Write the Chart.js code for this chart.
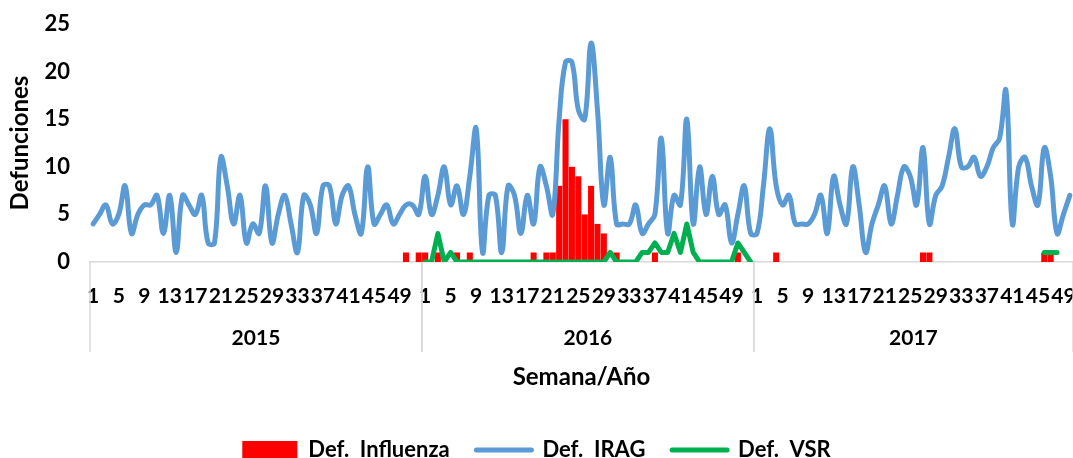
<!DOCTYPE html>
<html>
<head>
<meta charset="utf-8">
<script src="https://cdn.jsdelivr.net/npm/chart.js@4.4.1/dist/chart.umd.min.js"></script>
<style>
  html, body { margin: 0; padding: 0; background: #fff; }
  #graf { width: 1073px; height: 458px; }
</style>
</head>
<body>
<div id="graf"><canvas></canvas></div>
<script>
const YEARS = ["2015", "2016", "2017"];
const WEEKS_PER_YEAR = [52, 52, 50];

const IRAG_2015 = [4, 5, 6, 4, 5, 8, 3, 5, 6, 6,
  7, 3, 7, 1, 7, 6, 5, 7, 2, 2,
  11, 8, 4, 7, 2, 4, 3, 8, 2, 5,
  7, 4, 1, 7, 6, 3, 8, 8, 4, 7,
  8, 5, 3, 10, 4, 5, 6, 4, 5, 6,
  6, 5];
const IRAG_2016 = [9, 5, 7, 10, 6, 8, 5, 9, 14, 1,
  7, 7, 1, 8, 7, 3, 7, 4, 10, 8,
  5, 15, 21, 21, 16, 15, 23, 16, 6, 11,
  4, 4, 4, 6, 3, 4, 5, 13, 3, 7,
  6, 15, 4, 10, 5, 9, 5, 6, 2, 5,
  8, 3];
const IRAG_2017 = [3, 8, 14, 8, 6, 7, 4, 4, 4, 5,
  7, 3, 9, 6, 4, 10, 6, 1, 4, 6,
  8, 4, 7, 10, 9, 6, 12, 4, 7, 8,
  11, 14, 10, 10, 11, 9, 10, 12, 13, 18,
  4, 10, 11, 8, 6, 12, 9, 3, 5, 7];

const FLU_2015 = [0, 0, 0, 0, 0, 0, 0, 0, 0, 0,
  0, 0, 0, 0, 0, 0, 0, 0, 0, 0,
  0, 0, 0, 0, 0, 0, 0, 0, 0, 0,
  0, 0, 0, 0, 0, 0, 0, 0, 0, 0,
  0, 0, 0, 0, 0, 0, 0, 0, 0, 1,
  0, 1];
const FLU_2016 = [1, 0, 1, 0, 0, 1, 0, 1, 0, 0,
  0, 0, 0, 0, 0, 0, 0, 1, 0, 1,
  1, 8, 15, 10, 9, 5, 8, 4, 3, 0,
  1, 0, 0, 0, 0, 0, 1, 0, 0, 0,
  0, 0, 0, 0, 0, 0, 0, 0, 0, 1,
  0, 0];
const FLU_2017 = [0, 0, 0, 1, 0, 0, 0, 0, 0, 0,
  0, 0, 0, 0, 0, 0, 0, 0, 0, 0,
  0, 0, 0, 0, 0, 0, 1, 1, 0, 0,
  0, 0, 0, 0, 0, 0, 0, 0, 0, 0,
  0, 0, 0, 0, 0, 1, 1, 0, 0, 0];

const VSR_2015 = [null, null, null, null, null, null, null, null, null, null,
  null, null, null, null, null, null, null, null, null, null,
  null, null, null, null, null, null, null, null, null, null,
  null, null, null, null, null, null, null, null, null, null,
  null, null, null, null, null, null, null, null, null, null,
  null, null];
const VSR_2016 = [0, 0, 3, 0, 1, 0, 0, 0, 0, 0,
  0, 0, 0, 0, 0, 0, 0, 0, 0, 0,
  0, 0, 0, 0, 0, 0, 0, 0, 0, 1,
  0, 0, 0, 0, 1, 1, 2, 1, 1, 3,
  1, 4, 1, 0, 0, 0, 0, 0, 0, 2,
  1, 0];
const VSR_2017 = [null, null, null, null, null, null, null, null, null, null,
  null, null, null, null, null, null, null, null, null, null,
  null, null, null, null, null, null, null, null, null, null,
  null, null, null, null, null, null, null, null, null, null,
  null, null, null, null, null, 1, 1, 1, null, null];

const Y_TICKS = [0, 5, 10, 15, 20, 25];

const COLORS = {
  flu: "#ff0000",
  irag: "#5b9bd5",
  vsr: "#00b050",
  axis: "#d9d9d9",
};

const FONT = "Lato";

function weekLabels() {
  const out = [];
  WEEKS_PER_YEAR.forEach((n) => {
    for (let w = 1; w <= n; w++) out.push(String(w));
  });
  return out;
}

// etiquetas de año + separadores bajo el eje (eje de categorías en 2 niveles)
const yearGroups = {
  id: "yearGroups",
  afterDraw(chart) {
    const x = chart.scales.x;
    const ctx = chart.ctx;
    const half = (x.getPixelForValue(1) - x.getPixelForValue(0)) / 2;
    const top = chart.chartArea.bottom;
    ctx.save();
    ctx.strokeStyle = COLORS.axis;
    ctx.lineWidth = 1.5;
    ctx.fillStyle = "#000";
    ctx.font = "bold 21px " + FONT;
    ctx.textAlign = "center";
    ctx.textBaseline = "middle";
    let start = 0;
    YEARS.forEach((y, k) => {
      const end = start + WEEKS_PER_YEAR[k] - 1;
      const left = x.getPixelForValue(start) - half;
      const right = x.getPixelForValue(end) + half;
      ctx.beginPath();
      ctx.moveTo(left, top);
      ctx.lineTo(left, top + 90);
      ctx.moveTo(right, top);
      ctx.lineTo(right, top + 90);
      ctx.stroke();
      ctx.fillText(y, (left + right) / 2, top + 76);
      start = end + 1;
    });
    ctx.restore();
  },
};

const ctx = document.querySelector("#graf canvas");
Chart.defaults.font.family = FONT;
Chart.defaults.font.weight = "bold";
Chart.defaults.color = "#000";

new Chart(ctx, {
  data: {
    labels: weekLabels(),
    datasets: [
      {
        type: "bar",
        label: "Def.  Influenza",
        data: FLU_2015.concat(FLU_2016, FLU_2017),
        backgroundColor: COLORS.flu,
        borderWidth: 0,
        barPercentage: 0.95,
        categoryPercentage: 1,
        order: 2,
      },
      {
        type: "line",
        label: "Def.  IRAG",
        data: IRAG_2015.concat(IRAG_2016, IRAG_2017),
        borderColor: COLORS.irag,
        backgroundColor: COLORS.irag,
        borderWidth: 5,
        tension: 0.4,
        pointRadius: 0,
        borderCapStyle: "round",
        borderJoinStyle: "round",
        order: 1,
      },
      {
        type: "line",
        label: "Def.  VSR",
        data: VSR_2015.concat(VSR_2016, VSR_2017),
        borderColor: COLORS.vsr,
        backgroundColor: COLORS.vsr,
        borderWidth: 5,
        tension: 0,
        pointRadius: 0,
        spanGaps: false,
        borderCapStyle: "round",
        borderJoinStyle: "round",
        order: 0,
      },
    ],
  },
  options: {
    responsive: true,
    maintainAspectRatio: false,
    animation: false,
    layout: { padding: { top: 24, right: 0, left: 0, bottom: -13 } },
    scales: {
      x: {
        offset: true,
        grid: { display: false, drawTicks: false },
        border: { display: true, color: COLORS.axis, width: 1.5 },
        ticks: {
          autoSkip: false,
          maxRotation: 0,
          minRotation: 0,
          padding: 22,
          font: { size: 21, weight: "bold" },
          callback: function (v, i) {
            return i % 4 == 0 ? this.getLabelForValue(v) : "";
          },
        },
        title: {
          display: true,
          text: "Semana/Año",
          font: { size: 24, weight: "bold" },
          padding: { top: 47, bottom: 47 },
        },
        afterFit: (s) => {
          s.height = 177;
          s.paddingLeft = 0;
          s.paddingRight = 0;
        },
      },
      y: {
        min: 0,
        max: 25,
        afterBuildTicks: (s) => { s.ticks = Y_TICKS.map((v) => ({ value: v })); },
        grid: { display: false, drawTicks: false },
        border: { display: false },
        ticks: { padding: 20, font: { size: 22, weight: "bold" } },
        title: {
          display: true,
          text: "Defunciones",
          font: { size: 24, weight: "bold" },
          padding: { top: 6, bottom: 6 },
        },
        afterFit: (s) => {
          s.width = 90;
          s.paddingTop = 0;
          s.paddingBottom = 0;
        },
      },
    },
    plugins: {
      tooltip: { enabled: false },
      legend: {
        position: "bottom",
        labels: {
          usePointStyle: true,
          pointStyleWidth: 55,
          boxHeight: 18,
          padding: 0,
          font: { size: 22, weight: "bold" },
          generateLabels: (chart) => {
            const n = chart.data.datasets.length;
            return chart.data.datasets.map((ds, i) => ({
              text: ds.label + (i < n - 1 ? "     " : ""),
              fillStyle: ds.type == "bar" ? ds.backgroundColor : ds.borderColor,
              strokeStyle: ds.type == "bar" ? ds.backgroundColor : ds.borderColor,
              lineWidth: ds.type == "bar" ? 0 : 5,
              lineCap: "round",
              pointStyle: ds.type == "bar" ? "rect" : "line",
              hidden: !chart.isDatasetVisible(i),
              fontColor: "#000",
              datasetIndex: i,
            }));
          },
        },
      },
    },
  },
  plugins: [yearGroups],
});
</script>
</body>
</html>
